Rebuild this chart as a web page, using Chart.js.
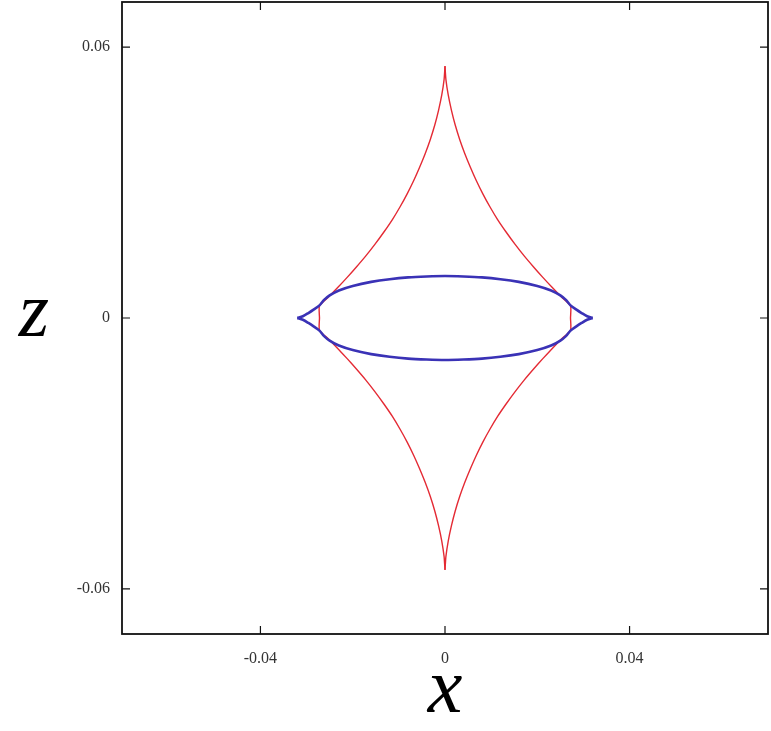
<!DOCTYPE html>
<html>
<head>
<meta charset="utf-8">
<script src="https://cdn.jsdelivr.net/npm/chart.js@4/dist/chart.umd.min.js"></script>
<style>
  body { margin: 0; background: #fff; }
  #wrap { width: 771px; height: 731px; }
</style>
</head>
<body>
<div id="wrap"><canvas id="c"></canvas></div>
<script>
// tick values
const xTickVals = [-0.04, 0, 0.04];
const zTickVals = [-0.06, 0, 0.06];

// red curve, right half: top cusp -> right side -> bottom cusp
const redRightX = [0, 0.0002, 0.0007, 0.0014, 0.0022, 0.0032, 0.0043, 0.0055, 0.0068, 0.0082, 0.0097, 0.0114, 0.0132, 0.0152, 0.0172, 0.0192, 0.0212, 0.0232, 0.0252, 0.0272,
  0.0272,
  0.0272, 0.0252, 0.0232, 0.0212, 0.0192, 0.0172, 0.0152, 0.0132, 0.0114, 0.0097, 0.0082, 0.0068, 0.0055, 0.0043, 0.0032, 0.0022, 0.0014, 0.0007, 0.0002, 0];
const redRightZ = [0.0558, 0.0528, 0.0494, 0.0460, 0.0428, 0.0395, 0.0364, 0.0334, 0.0304, 0.0275, 0.0247, 0.0218, 0.0191, 0.0163, 0.0137, 0.0113, 0.0090, 0.0068, 0.0047, 0.0027,
  0,
  -0.0027, -0.0047, -0.0068, -0.0090, -0.0113, -0.0137, -0.0163, -0.0191, -0.0218, -0.0247, -0.0275, -0.0304, -0.0334, -0.0364, -0.0395, -0.0428, -0.0460, -0.0494, -0.0528, -0.0558];

// red curve, left half
const redLeftX = [0, -0.0002, -0.0007, -0.0014, -0.0022, -0.0032, -0.0043, -0.0055, -0.0068, -0.0082, -0.0097, -0.0114, -0.0132, -0.0152, -0.0172, -0.0192, -0.0212, -0.0232, -0.0252, -0.0272,
  -0.0272,
  -0.0272, -0.0252, -0.0232, -0.0212, -0.0192, -0.0172, -0.0152, -0.0132, -0.0114, -0.0097, -0.0082, -0.0068, -0.0055, -0.0043, -0.0032, -0.0022, -0.0014, -0.0007, -0.0002, 0];
const redLeftZ = [0.0558, 0.0528, 0.0494, 0.0460, 0.0428, 0.0395, 0.0364, 0.0334, 0.0304, 0.0275, 0.0247, 0.0218, 0.0191, 0.0163, 0.0137, 0.0113, 0.0090, 0.0068, 0.0047, 0.0027,
  0,
  -0.0027, -0.0047, -0.0068, -0.0090, -0.0113, -0.0137, -0.0163, -0.0191, -0.0218, -0.0247, -0.0275, -0.0304, -0.0334, -0.0364, -0.0395, -0.0428, -0.0460, -0.0494, -0.0528, -0.0558];

// blue curve, upper arc: left cusp -> top -> right cusp
const blueUpperX = [-0.0320, -0.0308, -0.0296, -0.0284, -0.0272, -0.0262, -0.0250, -0.0230, -0.0200, -0.0160, -0.0120, -0.0080, -0.0040, 0,
  0.0040, 0.0080, 0.0120, 0.0160, 0.0200, 0.0230, 0.0250, 0.0262, 0.0272, 0.0284, 0.0296, 0.0308, 0.0320];
const blueUpperZ = [0, 0.0004, 0.0011, 0.0019, 0.0028, 0.0040, 0.0050, 0.0061, 0.0071, 0.0080, 0.0086, 0.0090, 0.0092, 0.0093,
  0.0092, 0.0090, 0.0086, 0.0080, 0.0071, 0.0061, 0.0050, 0.0040, 0.0028, 0.0019, 0.0011, 0.0004, 0];

// blue curve, lower arc
const blueLowerX = [-0.0320, -0.0308, -0.0296, -0.0284, -0.0272, -0.0262, -0.0250, -0.0230, -0.0200, -0.0160, -0.0120, -0.0080, -0.0040, 0,
  0.0040, 0.0080, 0.0120, 0.0160, 0.0200, 0.0230, 0.0250, 0.0262, 0.0272, 0.0284, 0.0296, 0.0308, 0.0320];
const blueLowerZ = [0, -0.0004, -0.0011, -0.0019, -0.0028, -0.0040, -0.0050, -0.0061, -0.0071, -0.0080, -0.0086, -0.0090, -0.0092, -0.0093,
  -0.0092, -0.0090, -0.0086, -0.0080, -0.0071, -0.0061, -0.0050, -0.0040, -0.0028, -0.0019, -0.0011, -0.0004, 0];

function pts(xs, zs) {
  return xs.map((v, i) => ({ x: v, y: zs[i] }));
}

const RED = 'rgb(228,42,52)';
const BLUE = 'rgb(58,50,182)';

function curve(xs, zs, color, width, tension) {
  return {
    data: pts(xs, zs),
    showLine: true,
    borderColor: color,
    borderWidth: width,
    pointRadius: 0,
    tension: tension,
    fill: false
  };
}

// box, inward ticks and the axis letters
const frame = {
  id: 'frame',
  afterDraw(chart) {
    const { ctx, chartArea: a, scales } = chart;
    const sx = scales.x, sy = scales.y;
    ctx.save();
    ctx.strokeStyle = '#111';
    ctx.lineWidth = 1.8;
    ctx.strokeRect(a.left, a.top, a.right - a.left, a.bottom - a.top);
    ctx.lineWidth = 1.2;
    ctx.beginPath();
    xTickVals.forEach(v => {
      const p = sx.getPixelForValue(v);
      ctx.moveTo(p, a.bottom); ctx.lineTo(p, a.bottom - 8);
      ctx.moveTo(p, a.top); ctx.lineTo(p, a.top + 8);
    });
    zTickVals.forEach(v => {
      const p = sy.getPixelForValue(v);
      ctx.moveTo(a.left, p); ctx.lineTo(a.left + 8, p);
      ctx.moveTo(a.right, p); ctx.lineTo(a.right - 8, p);
    });
    ctx.stroke();

    ctx.fillStyle = '#000';
    ctx.font = 'italic 78px "Liberation Serif"';
    ctx.textAlign = 'center';
    ctx.textBaseline = 'alphabetic';
    ctx.fillText('x', (a.left + a.right) / 2, a.bottom + 78);
    ctx.fillText('z', a.left - 88, sy.getPixelForValue(0) + 18);
    ctx.restore();
  }
};

const tickFont = { family: '"Liberation Serif"', size: 16 };

new Chart(document.getElementById('c'), {
  type: 'scatter',
  data: {
    datasets: [
      curve(blueUpperX, blueUpperZ, BLUE, 2.6, 0.3),
      curve(blueLowerX, blueLowerZ, BLUE, 2.6, 0.3),
      curve(redRightX, redRightZ, RED, 1.4, 0.2),
      curve(redLeftX, redLeftZ, RED, 1.4, 0.2)
    ]
  },
  options: {
    responsive: true,
    maintainAspectRatio: false,
    animation: false,
    layout: { padding: { top: 2, right: 3, left: 0, bottom: 0 } },
    plugins: { legend: { display: false }, tooltip: { enabled: false } },
    scales: {
      x: {
        type: 'linear',
        min: -0.07,
        max: 0.07,
        grid: { display: false, drawTicks: false },
        border: { display: false },
        afterBuildTicks: s => { s.ticks = xTickVals.map(v => ({ value: v })); },
        afterFit: s => { s.height = 97; s.paddingLeft = 0; s.paddingRight = 0; },
        ticks: { font: tickFont, color: '#333', padding: 15, maxRotation: 0, callback: v => String(v) }
      },
      y: {
        type: 'linear',
        min: -0.07,
        max: 0.07,
        grid: { display: false, drawTicks: false },
        border: { display: false },
        afterBuildTicks: s => { s.ticks = zTickVals.map(v => ({ value: v })); },
        afterFit: s => { s.width = 122; s.paddingTop = 0; s.paddingBottom = 0; },
        ticks: { font: tickFont, color: '#333', padding: 12, callback: v => String(v) }
      }
    }
  },
  plugins: [frame]
});
</script>
</body>
</html>
